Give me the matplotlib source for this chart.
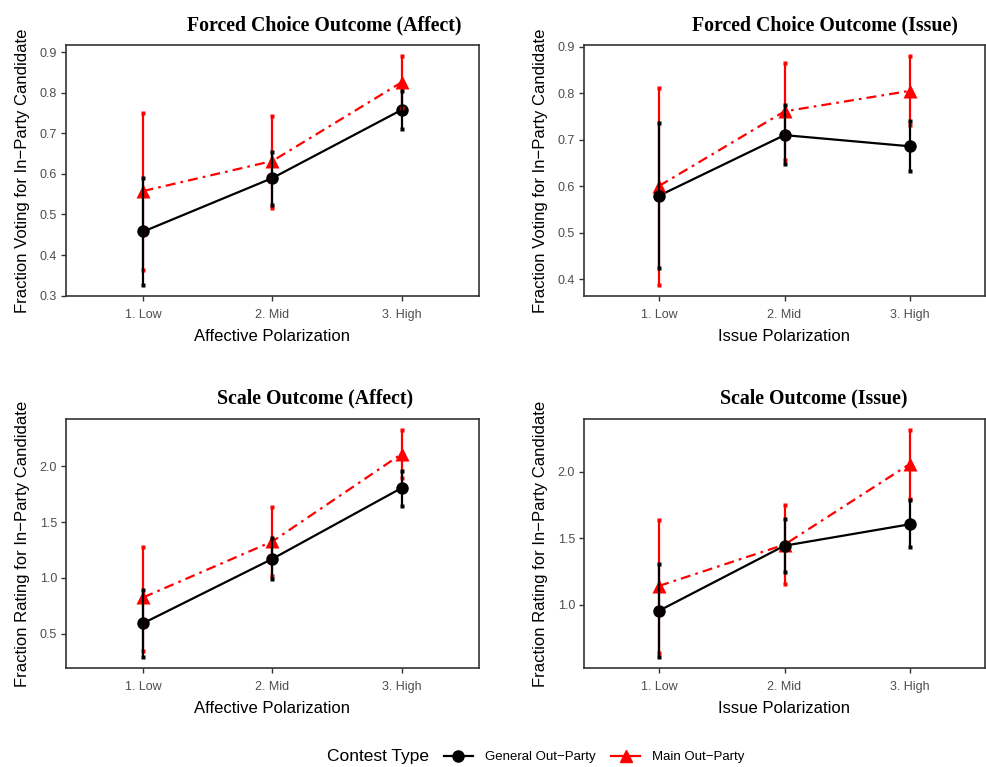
import matplotlib.pyplot as plt
from matplotlib.lines import Line2D

plt.rcParams['font.family'] = ['Liberation Sans', 'DejaVu Sans']

levels = ['1. Low', '2. Mid', '3. High']
xpos = [1, 2, 3]

# forced choice outcome, affective polarization
fc_aff_gen = [0.458, 0.590, 0.758]
fc_aff_gen_lo = [0.327, 0.523, 0.711]
fc_aff_gen_hi = [0.590, 0.654, 0.804]
fc_aff_main = [0.558, 0.632, 0.826]
fc_aff_main_lo = [0.364, 0.515, 0.762]
fc_aff_main_hi = [0.751, 0.744, 0.890]

# forced choice outcome, issue polarization
fc_iss_gen = [0.580, 0.710, 0.686]
fc_iss_gen_lo = [0.425, 0.647, 0.633]
fc_iss_gen_hi = [0.735, 0.775, 0.740]
fc_iss_main = [0.601, 0.761, 0.805]
fc_iss_main_lo = [0.389, 0.657, 0.731]
fc_iss_main_hi = [0.812, 0.864, 0.879]

# scale outcome, affective polarization
sc_aff_gen = [0.595, 1.171, 1.805]
sc_aff_gen_lo = [0.294, 0.994, 1.646]
sc_aff_gen_hi = [0.893, 1.357, 1.956]
sc_aff_main = [0.826, 1.327, 2.110]
sc_aff_main_lo = [0.347, 1.020, 1.898]
sc_aff_main_hi = [1.277, 1.632, 2.322]

# scale outcome, issue polarization
sc_iss_gen = [0.955, 1.443, 1.604]
sc_iss_gen_lo = [0.609, 1.248, 1.430]
sc_iss_gen_hi = [1.302, 1.641, 1.785]
sc_iss_main = [1.141, 1.451, 2.057]
sc_iss_main_lo = [0.634, 1.154, 1.797]
sc_iss_main_hi = [1.636, 1.748, 2.310]

W, H = 987, 767
fig = plt.figure(figsize=(W / 100, H / 100), dpi=100)


def rect(l, t, r, b):
    return [l / W, (H - b) / H, (r - l) / W, (b - t) / H]


panels = [
    (rect(66, 45, 479, 296), 'Forced Choice Outcome (Affect)', (324, 25),
     'Fraction Voting for In\u2212Party Candidate', 'Affective Polarization',
     fc_aff_gen, fc_aff_gen_lo, fc_aff_gen_hi, fc_aff_main, fc_aff_main_lo, fc_aff_main_hi, 0.1),
    (rect(584, 45, 985, 296), 'Forced Choice Outcome (Issue)', (825, 25),
     'Fraction Voting for In\u2212Party Candidate', 'Issue Polarization',
     fc_iss_gen, fc_iss_gen_lo, fc_iss_gen_hi, fc_iss_main, fc_iss_main_lo, fc_iss_main_hi, 0.1),
    (rect(66, 419, 479, 668), 'Scale Outcome (Affect)', (315, 398),
     'Fraction Rating for In\u2212Party Candidate', 'Affective Polarization',
     sc_aff_gen, sc_aff_gen_lo, sc_aff_gen_hi, sc_aff_main, sc_aff_main_lo, sc_aff_main_hi, 0.5),
    (rect(584, 419, 985, 668), 'Scale Outcome (Issue)', (814, 398),
     'Fraction Rating for In\u2212Party Candidate', 'Issue Polarization',
     sc_iss_gen, sc_iss_gen_lo, sc_iss_gen_hi, sc_iss_main, sc_iss_main_lo, sc_iss_main_hi, 0.5),
]

for (r, title, tpos, ylab, xlab, g, glo, ghi, m, mlo, mhi, step) in panels:
    ax = fig.add_axes(r)
    wpx = r[2] * W
    hpx = r[3] * H
    # lines
    ax.plot(xpos, m, color='red', lw=1.6, dashes=(4.5, 2.3, 1.2, 2.3), zorder=2)
    ax.plot(xpos, g, color='black', lw=1.6, zorder=2.1)
    # points
    ax.plot(xpos, m, '^', color='red', ms=10, mec='none', zorder=3)
    ax.plot(xpos, g, 'o', color='black', ms=9, mec='none', zorder=3.1)
    # error bars
    ax.vlines(xpos, mlo, mhi, color='red', lw=1.6, zorder=4)
    ax.vlines(xpos, glo, ghi, color='black', lw=1.6, zorder=4.1)
    ax.plot(xpos * 2, mlo + mhi, 's', color='red', ms=2.3, mec='none', zorder=4)
    ax.plot(xpos * 2, glo + ghi, 's', color='black', ms=2.3, mec='none', zorder=4.1)

    lo = min(glo + mlo)
    hi = max(ghi + mhi)
    pad = (hi - lo) * 0.05
    ax.set_ylim(lo - pad, hi + pad)
    ax.set_xlim(0.4, 3.6)
    ax.set_xticks(xpos)
    ax.set_xticklabels(levels, va='baseline')
    ax.yaxis.set_major_locator(plt.MultipleLocator(step))
    ax.yaxis.set_major_formatter(plt.FormatStrFormatter('%.1f'))
    ax.tick_params(length=3.5, width=1, color='#333333', labelcolor='#4D4D4D',
                   labelsize=9, pad=3)
    ax.tick_params(axis='x', pad=12)
    for s in ax.spines.values():
        s.set_color('#333333')
        s.set_linewidth(1.2)
    ax.set_ylabel(ylab, fontsize=12)
    ax.yaxis.set_label_coords(-36 / wpx, 0.5)
    ax.set_xlabel(xlab, fontsize=12)
    ax.xaxis.set_label_coords(0.5, -33 / hpx)
    fig.text(tpos[0] / W, 1 - tpos[1] / H, title, ha='center', va='center',
             family='Liberation Serif', weight='bold', fontsize=14.3)

# legend
fig.text(378 / W, 1 - 757 / H, 'Contest Type', ha='center', va='center', fontsize=12.5)
handles = [
    Line2D([], [], color='black', lw=1.6, marker='o', ms=8),
    Line2D([], [], color='red', lw=1.6, marker='^', ms=9),
]
fig.legend(handles, ['General Out\u2212Party', 'Main Out\u2212Party'], ncol=2,
           loc='center', bbox_to_anchor=(594 / W, 1 - 757 / H), frameon=False,
           fontsize=9.5, handlelength=2.2, columnspacing=1.2, handletextpad=0.9)

fig.savefig('out.png', dpi=100)
